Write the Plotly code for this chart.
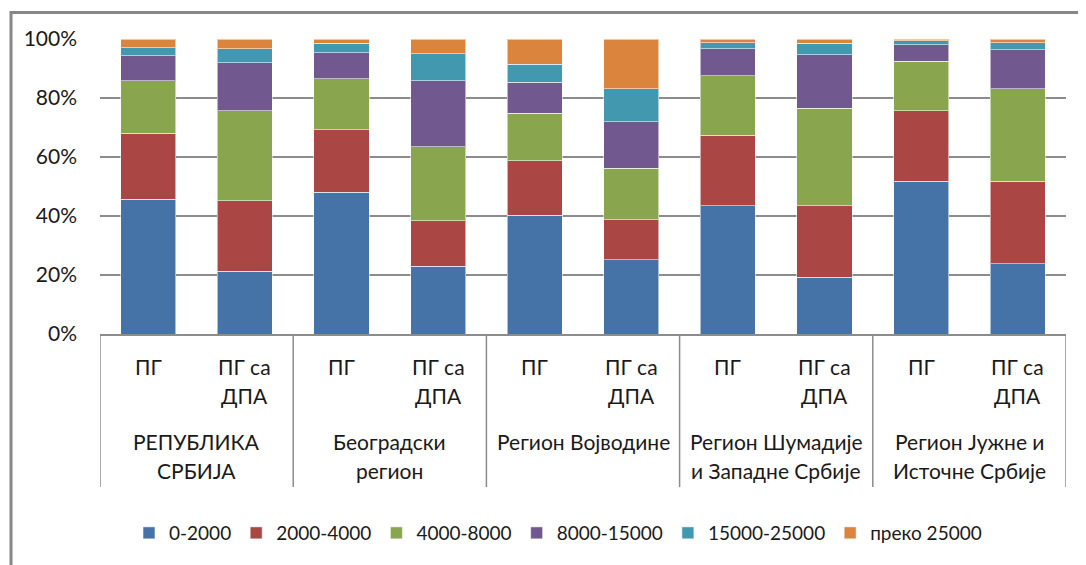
import plotly.graph_objects as go

regions = [["РЕПУБЛИКА", "СРБИЈА"], ["Београдски", "регион"], ["Регион Војводине"],
           ["Регион Шумадије", "и Западне Србије"], ["Регион Јужне и", "Источне Србије"]]
subcats = [["ПГ"], ["ПГ са", "ДПА"]]

series_names = ["0-2000", "2000-4000", "4000-8000", "8000-15000", "15000-25000", "преко 25000"]
colors = ["#4572A7", "#AA4643", "#89A54E", "#71588F", "#4198AF", "#DB843D"]

# values per bar (order: region x subcat), percent
v_0_2000 =      [45.7, 21.3, 48.0, 23.0, 40.3, 25.2, 43.5, 19.2, 51.7, 23.8]
v_2000_4000 =   [22.3, 23.9, 21.3, 15.4, 18.4, 13.6, 23.9, 24.3, 24.0, 28.0]
v_4000_8000 =   [17.8, 30.5, 17.3, 25.1, 16.1, 17.4, 20.1, 33.1, 16.7, 31.4]
v_8000_15000 =  [8.6, 16.2, 8.7, 22.3, 10.6, 15.7, 9.2, 18.0, 5.7, 13.1]
v_15000_25000 = [2.7, 4.8, 3.2, 9.2, 6.1, 11.2, 2.1, 3.9, 1.3, 2.5]
v_over_25000 =  [2.9, 3.3, 1.5, 5.0, 8.5, 16.9, 1.2, 1.5, 0.6, 1.2]
all_values = [v_0_2000, v_2000_4000, v_4000_8000, v_8000_15000, v_15000_25000, v_over_25000]

n_sub = len(subcats)
n_bars = len(regions) * n_sub
xs = list(range(n_bars))

# page body has an 8px margin; compensate so the plot lands where the reference has it
OFF = 8
W, H = 1086 - OFF, 565 - OFF
PL, PR, PT, PB = 100, 1066, 39, 334   # plot area in page pixels
L = PL - OFF
T = PT - OFF
R = W - (PR - OFF)
B = H - (PB - OFF)
FONT = "Lato, 'Open Sans', sans-serif"
TXT = "#1a1a1a"
GRID = "#8c8c8c"

fig = go.Figure()
for name, col, vals in zip(series_names, colors, all_values):
    fig.add_trace(go.Bar(
        x=xs, y=vals, name=name,
        marker=dict(color=col, line=dict(color="rgba(255,255,255,0.55)", width=1)),
        width=0.57,
    ))

ph = PB - PT
pw = PR - PL
def py2y(py):
    return (PB - py) / ph
def px2x(px):
    return (px - PL) / pw

annotations = []
shapes = []
line_gap = 29
for gi, reg in enumerate(regions):
    for si, sub in enumerate(subcats):
        xi = gi * n_sub + si
        for li, line in enumerate(sub):
            annotations.append(dict(x=xi, xref="x", y=py2y(366 + li * line_gap), yref="paper",
                                    text=line, showarrow=False, xanchor="center", yanchor="middle",
                                    font=dict(size=21, color=TXT, family=FONT)))
    gx = gi * n_sub + (n_sub - 1) / 2
    for li, line in enumerate(reg):
        annotations.append(dict(x=gx, xref="x", y=py2y(441 + li * line_gap), yref="paper",
                                text=line, showarrow=False, xanchor="center", yanchor="middle",
                                font=dict(size=21, color=TXT, family=FONT)))
for gi in range(len(regions) + 1):
    bx = gi * n_sub - 0.5
    shapes.append(dict(type="line", xref="x", yref="paper", x0=bx, x1=bx,
                       y0=py2y(334), y1=py2y(487), line=dict(color=GRID, width=1.5)))

# chart-area frame: only its top and left edges are inside the view
shapes.append(dict(type="rect", xref="paper", yref="paper",
                   x0=px2x(11), x1=px2x(1110), y0=py2y(600), y1=py2y(12.5),
                   line=dict(color="#878787", width=3), layer="below"))

fig.update_layout(
    width=W, height=H,
    margin=dict(l=L, r=R, t=T, b=B, autoexpand=False),
    barmode="stack",
    plot_bgcolor="white", paper_bgcolor="white",
    font=dict(family=FONT, size=21, color=TXT),
    showlegend=True,
    legend=dict(orientation="h", x=px2x(558), xanchor="center", y=py2y(533), yanchor="middle",
                font=dict(size=19, color=TXT), traceorder="normal", itemwidth=30),
    xaxis=dict(range=[-0.5, n_bars - 0.5], showline=True, linecolor=GRID, linewidth=1.5,
               showticklabels=False, ticks="", showgrid=False, zeroline=False, automargin=False),
    yaxis=dict(range=[0, 100], dtick=20, ticksuffix="%", showgrid=True,
               gridcolor=GRID, gridwidth=1.5, zeroline=False, showline=False,
               tickfont=dict(size=21, color=TXT), ticks="", ticklabelstandoff=22, automargin=False),
    annotations=annotations,
    shapes=shapes,
)

fig.write_html("out.html")
